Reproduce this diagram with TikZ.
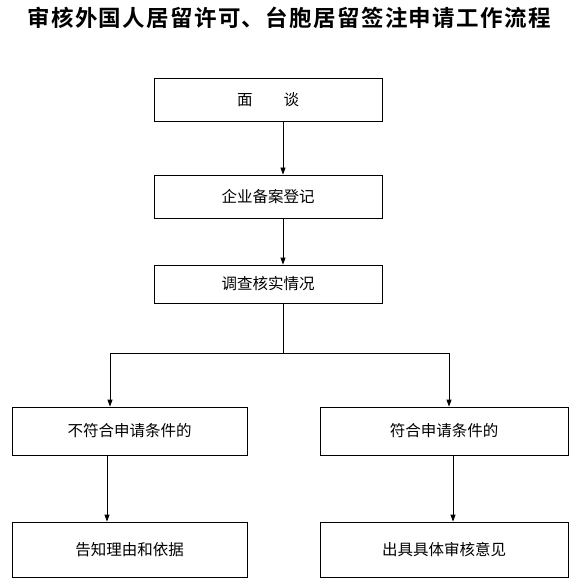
\documentclass[tikz,border=0pt]{standalone}
\usepackage{fontspec}
\newfontfamily\cjk{Noto Sans CJK SC}
\newfontfamily\cjktitle[LetterSpace=6]{Noto Sans CJK SC Bold}
\usetikzlibrary{positioning,calc,arrows.meta}
\tikzset{
stepbox/.style={draw=black,line width=0.8pt,inner sep=0pt,anchor=center,font=\cjk\fontsize{15.5}{17}\selectfont},
wideA/.style={minimum width=228pt,minimum height=43pt},
wideB/.style={minimum width=228pt,minimum height=38pt},
sideL/.style={minimum width=235pt},
sideR/.style={minimum width=248pt},
flowarrow/.style={-{Triangle[length=7pt,width=5pt]},line width=0.8pt,black},
flowline/.style={line width=0.8pt,black},
titletext/.style={font=\cjktitle\fontsize{22.5}{25}\selectfont,inner sep=0pt}
}
\begin{document}
\begin{tikzpicture}[x=1pt,y=-1pt]
\useasboundingbox (0,0) rectangle (572,585);
% title
\node[titletext] (title) at (289,18) {审核外国人居留许可、台胞居留签注申请工作流程};
% main column
\node[stepbox,wideA] (mianTan) at (268,99.5) {面\hspace{2em}谈};
\node[stepbox,wideA] (dengJi) at (268,196.5) {企业备案登记};
\node[stepbox,wideB] (diaoCha) at (268,284) {调查核实情况};
% two branches
\node[stepbox,sideL,minimum height=48pt] (buFuHe) at (129.5,431) {不符合申请条件的};
\node[stepbox,sideR,minimum height=48pt] (fuHe) at (444,431) {符合申请条件的};
\node[stepbox,sideL,minimum height=55pt] (gaoZhi) at (129.5,549.5) {告知理由和依据};
\node[stepbox,sideR,minimum height=55pt] (yiJian) at (444,549.5) {出具具体审核意见};
% connector columns
\coordinate (axis) at (283,0);
\coordinate (leftx) at (110,0);
\coordinate (rightx) at (449,0);
\coordinate (lowL) at (107,0);
\coordinate (lowR) at (453,0);
\coordinate (fork) at (283,353);
\draw[flowarrow] (mianTan.south -| axis) -- (dengJi.north -| axis);
\draw[flowarrow] (dengJi.south -| axis) -- (diaoCha.north -| axis);
\draw[flowline] (diaoCha.south -| axis) -- (fork);
\draw[flowarrow] (fork) -- (fork -| leftx) -- (buFuHe.north -| leftx);
\draw[flowarrow] (fork) -- (fork -| rightx) -- (fuHe.north -| rightx);
\draw[flowarrow] (buFuHe.south -| lowL) -- (gaoZhi.north -| lowL);
\draw[flowarrow] (fuHe.south -| lowR) -- (yiJian.north -| lowR);
\end{tikzpicture}
\end{document}
